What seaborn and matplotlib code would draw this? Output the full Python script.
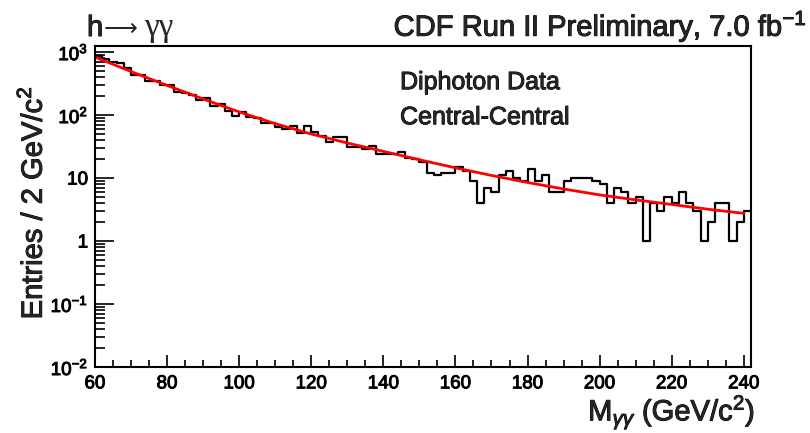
import numpy as np
import pandas as pd
import matplotlib
matplotlib.use("Agg")
import matplotlib.pyplot as plt
import matplotlib.patheffects as pe
import seaborn as sns
from matplotlib.ticker import MultipleLocator, LogLocator, FixedLocator, FixedFormatter, NullFormatter

# ---- data ----
bin_lo = 60
bin_hi = 242
bin_width = 2
counts = [880, 780, 690, 670, 560, 430, 425, 350, 345, 300,
          298, 228, 226, 210, 175, 185, 140, 148, 118, 98,
          111, 92, 90, 74, 74, 64, 61, 66, 51, 66,
          53, 46, 37, 45, 45, 31, 31, 29, 32, 24,
          24, 24, 26, 21, 20, 18, 12, 11, 12, 12,
          15, 13, 9, 4, 7, 6, 11, 13, 10, 9,
          14, 9, 11, 6, 6, 9, 10, 10, 10, 9,
          8, 4, 7, 6, 4, 5, 1, 4, 3, 5,
          4, 6, 4, 3, 1, 2, 4, 4, 1, 2, 3]
fit_mass = [60, 70, 80, 90, 100, 110, 120, 130, 140, 150,
            160, 170, 180, 190, 200, 210, 220, 230, 240]
fit_vals = [830, 490, 295, 180, 112, 73, 50, 36, 26.5, 19.5,
            14.5, 11, 8.5, 6.7, 5.4, 4.5, 3.8, 3.2, 2.75]
x_ticks = [60, 80, 100, 120, 140, 160, 180, 200, 220, 240]
y_ticks = [1e-2, 1e-1, 1, 10, 1e2, 1e3]
y_ticklabels = ["10$^{-2}$", "10$^{-1}$", "1", "10", "10$^{2}$", "10$^{3}$"]

centers = np.arange(bin_lo + bin_width / 2, bin_hi, bin_width)
hist_df = pd.DataFrame({"mass": centers, "entries": counts})
fit_df = pd.DataFrame({"mass": fit_mass, "fit": fit_vals})

# ---- style ----
sns.set_theme(style="ticks")
plt.rcParams["font.family"] = ["Liberation Sans", "DejaVu Sans"]
plt.rcParams["mathtext.fontset"] = "custom"
plt.rcParams["mathtext.rm"] = "Liberation Sans"
plt.rcParams["mathtext.it"] = "Liberation Sans:italic"
plt.rcParams["mathtext.bf"] = "Liberation Sans:bold"

heavy = [pe.withStroke(linewidth=0.7, foreground="black")]

fig = plt.figure(figsize=(8.1, 4.33), dpi=100)
ax = fig.add_axes([95 / 810, 1 - 367 / 433, (751 - 95) / 810, (367 - 45.5) / 433])
ax.set_yscale("log")

sns.histplot(data=hist_df, x="mass", weights="entries", binwidth=bin_width,
             binrange=(bin_lo, bin_hi), element="step", fill=False,
             color="black", linewidth=1.6, ax=ax)
sns.lineplot(data=fit_df, x="mass", y="fit", color="#ff0000", linewidth=2.0, ax=ax)

ax.set_xlim(bin_lo, bin_hi)
ax.set_ylim(1e-2, 1270)

ax.xaxis.set_major_locator(FixedLocator(x_ticks))
ax.xaxis.set_minor_locator(MultipleLocator(5))
ax.yaxis.set_major_locator(FixedLocator(y_ticks))
ax.yaxis.set_major_formatter(FixedFormatter(y_ticklabels))
ax.yaxis.set_minor_locator(LogLocator(base=10, subs=np.arange(2, 10), numticks=20))
ax.yaxis.set_minor_formatter(NullFormatter())

ax.tick_params(which="both", direction="in", top=False, right=False, colors="black",
               labelsize=13.5, width=1.2)
ax.tick_params(axis="y", which="major", length=14, pad=5)
ax.tick_params(axis="y", which="minor", length=7)
ax.tick_params(axis="x", which="major", length=9, pad=6)
ax.tick_params(axis="x", which="minor", length=5)
for s in ax.spines.values():
    s.set_visible(True)
    s.set_linewidth(1.5)
    s.set_color("black")
for lab in ax.get_xticklabels() + ax.get_yticklabels():
    lab.set_path_effects(heavy)

ax.set_xlabel("M$_{γγ}$ (GeV/c$^{2}$)", fontsize=21, loc="right", path_effects=heavy)
ax.xaxis.set_label_coords(1.006, -0.082)
ax.set_ylabel("Entries / 2 GeV/c$^{2}$", fontsize=21, loc="center", path_effects=heavy)
ax.yaxis.set_label_coords(-0.072, 0.51)

ax.text(0.465, 0.886, "Diphoton Data", transform=ax.transAxes, fontsize=18,
        ha="left", va="center", path_effects=heavy)
ax.text(0.465, 0.777, "Central-Central", transform=ax.transAxes, fontsize=18,
        ha="left", va="center", path_effects=heavy)

fig.text(87 / 810, 1 - 36 / 433, "h", fontsize=21, ha="left", va="baseline",
         path_effects=heavy)
fig.text(104 / 810, 1 - 36 / 433, "⟶", fontsize=17, ha="left", va="baseline",
         family=["DejaVu Sans"])
fig.text(144 / 810, 1 - 36 / 433, "γγ", fontsize=24, ha="left", va="baseline",
         family=["Liberation Serif", "DejaVu Serif"])
fig.text(806 / 810, 1 - 36 / 433, "CDF Run II Preliminary, 7.0 fb$^{-1}$", fontsize=21,
         ha="right", va="baseline", path_effects=heavy)

fig.savefig("out.png", dpi=100, facecolor="white")
